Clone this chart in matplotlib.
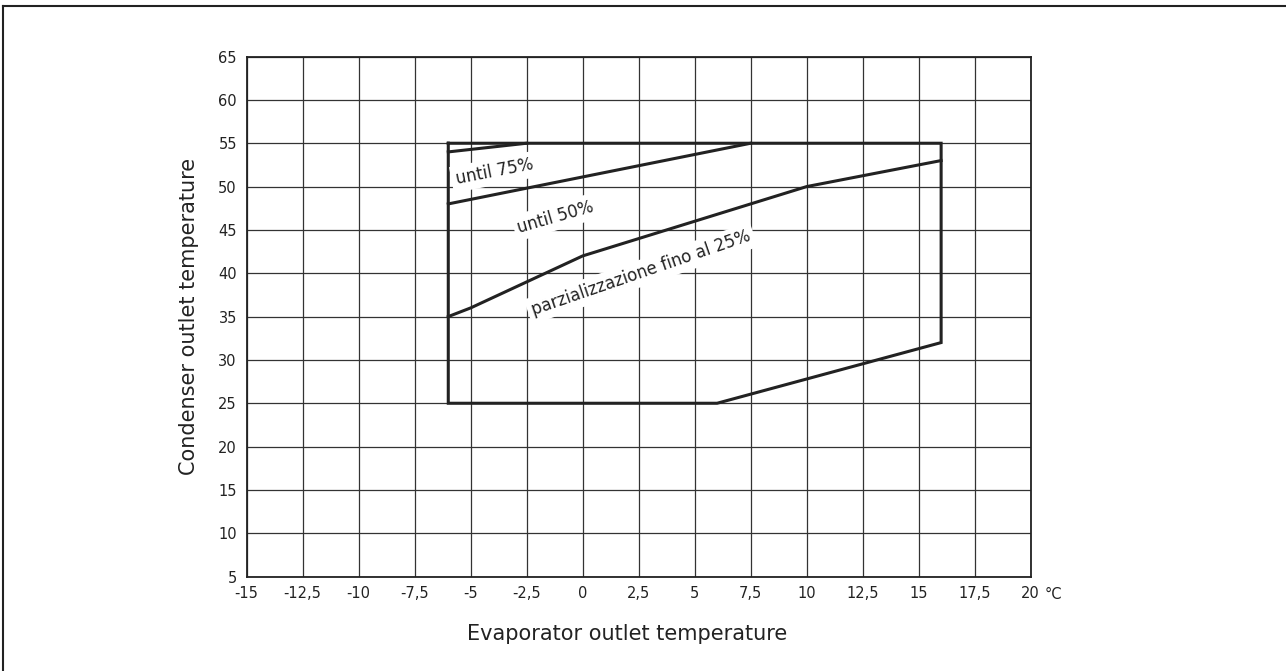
import matplotlib
matplotlib.use("Agg")
import matplotlib.pyplot as plt
from matplotlib.ticker import MultipleLocator, FuncFormatter

# operating envelope (evaporator outlet, condenser outlet)
env_x = [-6, -6, 6, 16, 16, -6]
env_y = [55, 25, 25, 32, 55, 55]

# capacity limit lines
l75_x = [-6, -2.5]
l75_y = [54, 55]
l50_x = [-6, 7.5]
l50_y = [48, 55]
l25_x = [-6, -5, 0, 5, 10, 16]
l25_y = [35, 36, 42, 46, 50, 53]

labels = ["until 75%", "until 50%", "parzializzazione fino al 25%"]
label_x = [-3.95, -1.2, 2.6]
label_y = [51.7, 46.5, 40.0]
label_rot = [11, 16, 19]

plt.rcParams['font.family'] = ['DejaVu Sans']

fig = plt.figure(figsize=(12.86, 6.71), dpi=100)
ax = fig.add_axes([0.1918, 0.1407, 0.6097, 0.775])

ax.plot(env_x, env_y, color='#222222', lw=2.2, solid_joinstyle='miter')
ax.plot(l75_x, l75_y, color='#222222', lw=2.2)
ax.plot(l50_x, l50_y, color='#222222', lw=2.2)
ax.plot(l25_x, l25_y, color='#222222', lw=2.2)

for t, x, y, r in zip(labels, label_x, label_y, label_rot):
    ax.text(x, y, t, rotation=r, ha='center', va='center', fontsize=12,
            color='#222222', rotation_mode='anchor',
            bbox=dict(facecolor='white', edgecolor='none', pad=3))

ax.set_xlim(-15, 20)
ax.set_ylim(5, 65)
ax.xaxis.set_major_locator(MultipleLocator(2.5))
ax.yaxis.set_major_locator(MultipleLocator(5))
ax.xaxis.set_major_formatter(FuncFormatter(lambda v, p: ('%g' % v).replace('.', ',')))
ax.yaxis.set_major_formatter(FuncFormatter(lambda v, p: '%g' % v))
ax.tick_params(length=0, labelsize=10.5, colors='#222222', pad=7)
ax.grid(True, color='#333333', lw=0.9)
ax.set_axisbelow(True)
for s in ax.spines.values():
    s.set_color('#222222')
    s.set_linewidth(1.3)

ax.text(1.018, -0.035, '°C', transform=ax.transAxes, fontsize=10.5,
        color='#222222', ha='left', va='center')

ax.set_ylabel('Condenser outlet temperature', fontsize=15, color='#222222', labelpad=14)
fig.text(0.488, 0.055, 'Evaporator outlet temperature', fontsize=15,
         color='#222222', ha='center', va='center')

# outer frame, top and left only
fig.add_artist(plt.Line2D([0.0025, 1.0], [0.991, 0.991], transform=fig.transFigure,
                          color='#222222', lw=1.5))
fig.add_artist(plt.Line2D([0.0025, 0.0025], [0.0, 0.991], transform=fig.transFigure,
                          color='#222222', lw=1.5))

fig.savefig('out.png', dpi=100)
